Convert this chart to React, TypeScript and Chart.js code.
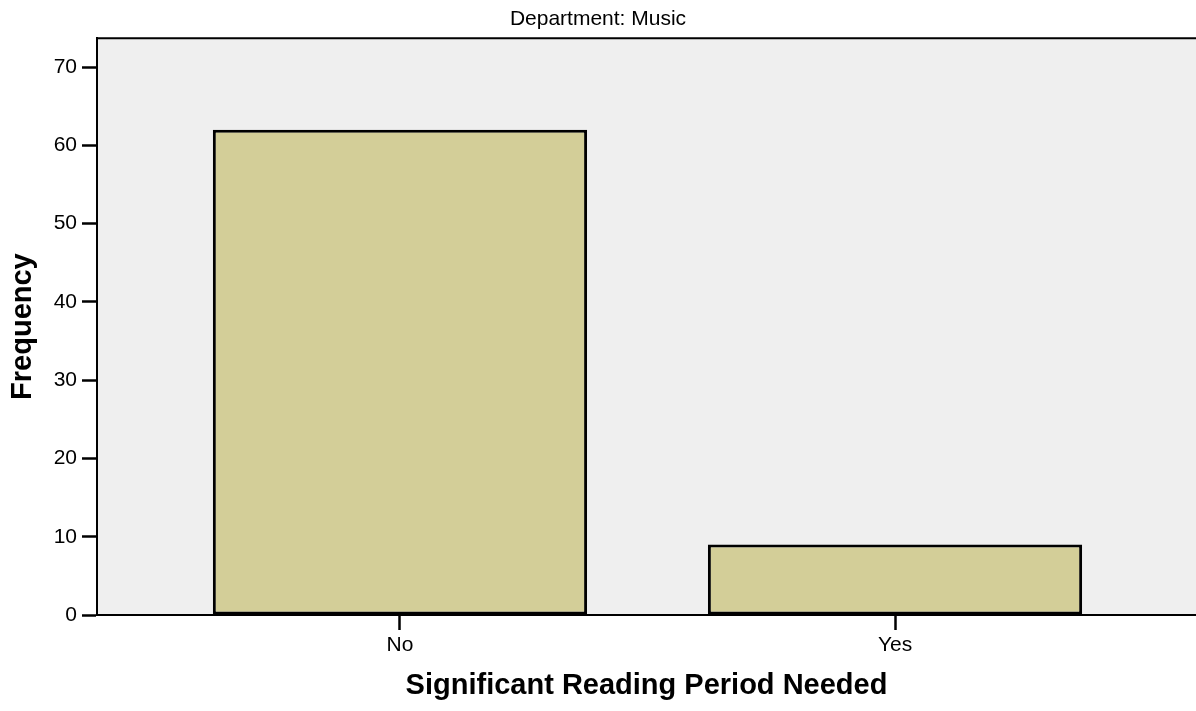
import React, { useEffect, useRef } from 'react';
import { Chart, registerables } from 'chart.js';

Chart.register(...registerables);

const categories: string[] = ['No', 'Yes'];
const frequencies: number[] = [62, 9];
const yTickValues: number[] = [0, 10, 20, 30, 40, 50, 60, 70];
const chartTitle = 'Department: Music';
const xAxisTitle = 'Significant Reading Period Needed';
const yAxisTitle = 'Frequency';

const FAMILY = '"Liberation Sans", Arial, Helvetica, sans-serif';

export default function App() {
  const ref = useRef<HTMLCanvasElement | null>(null);

  useEffect(() => {
    document.body.style.margin = '0';
    const canvas = ref.current;
    if (!canvas) return;

    const framePlugin = {
      id: 'plotFrame',
      beforeDraw(chart: any) {
        const { ctx, chartArea } = chart;
        const { left, top, right, bottom } = chartArea;
        ctx.save();
        ctx.fillStyle = '#EFEFEF';
        ctx.fillRect(left, top, right - left, bottom - top);
        ctx.restore();
      },
      afterDraw(chart: any) {
        const { ctx, chartArea } = chart;
        const { left, top, right } = chartArea;
        ctx.save();
        ctx.strokeStyle = '#000';
        ctx.lineWidth = 2;
        ctx.beginPath();
        ctx.moveTo(left - 1, top);
        ctx.lineTo(right, top);
        ctx.stroke();
        ctx.restore();
      },
    };

    const chart = new Chart(canvas, {
      type: 'bar',
      data: {
        datasets: [
          {
            data: categories.map((_, i) => ({ x: i, y: frequencies[i] })),
            backgroundColor: '#D3CE98',
            borderColor: '#000',
            borderWidth: 3,
            borderSkipped: false,
            categoryPercentage: 1,
            barPercentage: 0.756,
          } as any,
        ],
      },
      options: {
        animation: false,
        responsive: false,
        layout: { padding: 0 },
        plugins: {
          legend: { display: false },
          tooltip: { enabled: false },
          title: {
            display: true,
            text: chartTitle,
            color: '#000',
            font: { family: FAMILY, size: 21, weight: 'normal' },
            padding: { top: 7, bottom: 6 },
          },
        },
        scales: {
          x: {
            type: 'linear',
            offset: false,
            min: -0.612,
            max: 1.608,
            afterBuildTicks: (s: any) => {
              s.ticks = categories.map((_, i) => ({ value: i }));
            },
            afterFit: (s: any) => {
              s.height = 96;
            },
            ticks: {
              callback: (v: any) => categories[v] ?? '',
              color: '#000',
              font: { family: FAMILY, size: 21 },
              padding: 3,
              autoSkip: false,
              maxRotation: 0,
            },
            grid: {
              offset: false,
              drawOnChartArea: false,
              drawTicks: true,
              tickLength: 15,
              tickWidth: 2.5,
              tickColor: '#000',
            },
            border: { display: true, color: '#000', width: 2 },
            title: {
              display: true,
              text: xAxisTitle,
              color: '#000',
              font: { family: FAMILY, size: 29, weight: 'bold' },
              padding: { top: 0, bottom: 8 },
            },
          },
          y: {
            min: 0,
            max: 73.7,
            afterBuildTicks: (s: any) => {
              s.ticks = yTickValues.map((v) => ({ value: v }));
            },
            afterFit: (s: any) => {
              s.width = 97;
            },
            ticks: {
              color: '#000',
              font: { family: FAMILY, size: 21 },
              padding: 5,
            },
            grid: {
              drawOnChartArea: false,
              drawTicks: true,
              tickLength: 15,
              tickWidth: 2.5,
              tickColor: '#000',
            },
            border: { display: true, color: '#000', width: 2 },
            title: {
              display: true,
              text: yAxisTitle,
              color: '#000',
              font: { family: FAMILY, size: 29, weight: 'bold' },
              padding: { top: 6, bottom: 0 },
            },
          },
        },
      } as any,
      plugins: [framePlugin],
    });

    return () => chart.destroy();
  }, []);

  return (
    <div style={{ width: 1196, height: 711 }}>
      <canvas ref={ref} width={1196} height={711} style={{ display: 'block' }} />
    </div>
  );
}
